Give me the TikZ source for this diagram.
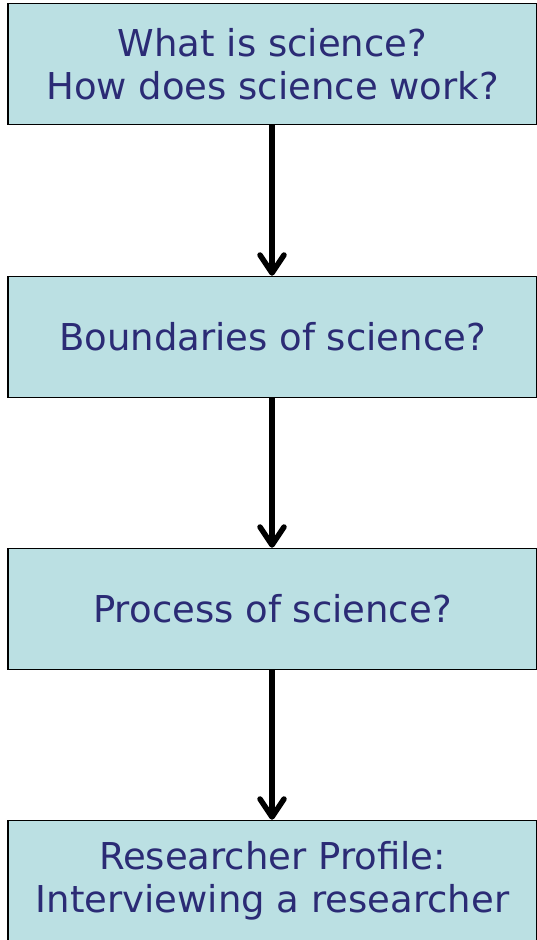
\documentclass[tikz,border=0pt]{standalone}
\usepackage{fontspec}
\setmainfont{DejaVu Sans}
\usetikzlibrary{arrows.meta}
\definecolor{boxfill}{HTML}{BBE0E3}
\definecolor{boxtext}{HTML}{2B2B75}
\begin{document}
\begin{tikzpicture}[x=1pt,y=-1pt,
  flowbox/.style={draw=black,line width=1.5pt,fill=boxfill,rectangle,minimum width=529pt,minimum height=121pt,inner sep=0pt,
    text=boxtext,align=center,font=\fontsize{37}{43}\selectfont},
  flowarrow/.style={line width=5.5pt,-{Straight Barb[length=18pt,width=24pt,line width=5.5pt,round]}}]
\useasboundingbox (0,0) rectangle (536,940);
\node[flowbox] (b1) at (272.5,64) {What is science?\\How does science work?};
\node[flowbox] (b2) at (272.5,337) {Boundaries of science?};
\node[flowbox] (b3) at (272.5,609) {Process of science?};
\node[flowbox] (b4) at (272.5,881) {Researcher Profile:\\Interviewing a researcher};
\draw[flowarrow] (b1.south -| 272,0) -- (b2.north -| 272,0);
\draw[flowarrow] (b2.south -| 272,0) -- (b3.north -| 272,0);
\draw[flowarrow] (b3.south -| 272,0) -- (b4.north -| 272,0);
\end{tikzpicture}
\end{document}
